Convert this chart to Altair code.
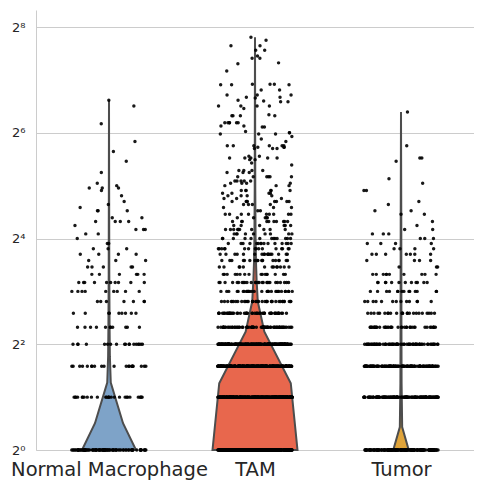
import altair as alt
import pandas as pd

categories = ["Normal Macrophage", "TAM", "Tumor"]
colors = ["#7ea3c8", "#e8674d", "#e0a43a"]

# violin outline: value (y) and half-width in category-slot units
nm_violin_y = [1, 1.42, 2.42, 3.4, 5, 10, 30, 98]
nm_violin_w = [0.185, 0.096, 0.012, 0.006, 0.004, 0.002, 0.001, 0.0]
tam_violin_y = [1, 2.4, 4.72, 7.0, 9.3, 11.6, 16, 30, 224]
tam_violin_w = [0.291, 0.245, 0.064, 0.019, 0.011, 0.007, 0.004, 0.002, 0.0]
tumor_violin_y = [1, 1.35, 2.4, 5, 20, 84]
tumor_violin_w = [0.053, 0.008, 0.004, 0.003, 0.002, 0.0]

# strip points: number of cells at each low integer value 1..16
low_values = list(range(1, 17))
nm_low_counts = [90, 27, 21, 18, 11, 9, 7, 9, 10, 6, 5, 3, 4, 3, 2, 1]
tam_low_counts = [400, 300, 250, 200, 70, 50, 38, 31, 27, 16, 13, 18, 17, 16, 15, 13]
tumor_low_counts = [160, 150, 120, 70, 38, 24, 13, 14, 12, 10, 3, 4, 7, 4, 4, 3]

# strip points: individual higher values
nm_high = [98, 91, 72, 57, 50, 44, 38, 33, 32, 31, 31, 31, 30, 28, 26, 25, 24,
           23, 23, 23, 21, 21, 20, 20, 20, 20, 19, 18, 18, 18, 17, 17]
tam_high_values = [17, 18, 19, 20, 21, 22, 23, 24, 25, 26, 27, 28, 29, 30, 32, 33,
                   34, 36, 38, 39, 42, 43, 45, 46, 47, 52, 53, 54, 57, 59, 61, 63,
                   64, 65, 69, 70, 73, 80, 81, 88, 91, 96, 97, 98, 101, 102, 105,
                   112, 120, 121, 144, 158, 160, 170, 175, 189, 200, 215, 224]
tam_high_counts = [9, 11, 6, 10, 5, 9, 2, 3, 4, 8, 3, 4, 4, 6, 3, 4,
                   5, 6, 3, 4, 1, 1, 2, 5, 2, 3, 3, 6, 1, 1, 1, 3,
                   2, 1, 2, 2, 6, 4, 1, 1, 4, 2, 1, 1, 1, 2, 3,
                   2, 3, 3, 1, 1, 1, 2, 1, 2, 2, 1, 1]
tumor_high = [84, 54, 46, 46, 44, 35, 33, 30, 30, 26, 25, 23, 23, 22, 22, 20,
              19, 18, 18, 17, 17, 17]

y_tick_values = [1, 4, 16, 64, 256]
y_tick_labels = ["2\u2070", "2\u00b2", "2\u2074", "2\u2076", "2\u2078"]

# ---- build tables ----
violin_rows = []
for ci, (ys, ws) in enumerate([(nm_violin_y, nm_violin_w),
                               (tam_violin_y, tam_violin_w),
                               (tumor_violin_y, tumor_violin_w)]):
    for k, (y, w) in enumerate(zip(ys, ws)):
        violin_rows.append({"cat": categories[ci], "ci": ci, "k": k, "value": y,
                            "lo": ci - w, "hi": ci + w})
violin_df = pd.DataFrame(violin_rows)

point_rows = []
tam_high = []
for v, c in zip(tam_high_values, tam_high_counts):
    tam_high += [v] * c
for ci, (counts, highs) in enumerate([(nm_low_counts, nm_high),
                                      (tam_low_counts, tam_high),
                                      (tumor_low_counts, tumor_high)]):
    vals = []
    for v, c in zip(low_values, counts):
        vals += [v] * c
    vals += highs
    for v in vals:
        point_rows.append({"cat": categories[ci], "ci": ci, "value": v})
points_df = pd.DataFrame(point_rows)

label_expr_y = "''"
for v, lab in zip(y_tick_values, y_tick_labels):
    label_expr_y = f"datum.value == {v} ? '{lab}' : ({label_expr_y})"
label_expr_x = "''"
for i, lab in enumerate(categories):
    label_expr_x = f"round(datum.value) == {i} ? '{lab}' : ({label_expr_x})"

x_scale = alt.Scale(domain=[-0.5, 2.5], nice=False, zero=False)
y_scale = alt.Scale(type="log", base=2, domain=[1, 320], nice=False)

x_axis = alt.Axis(values=[0, 1, 2], labelExpr=label_expr_x, grid=False, ticks=False,
                  domainColor="#cccccc", labelFontSize=19.5, labelPadding=10,
                  labelColor="#262626", labelFont="DejaVu Sans", labelFlush=False,
                  labelOverlap=False, labelLimit=0, title=None)
y_axis = alt.Axis(values=y_tick_values, labelExpr=label_expr_y, grid=True,
                  gridColor="#cccccc", ticks=False, domainColor="#cccccc",
                  labelFontSize=13, labelPadding=11, labelColor="#262626",
                  labelFont="DejaVu Sans", labelOverlap=False, title=None)

violins = alt.Chart(violin_df).mark_area(
    orient="horizontal", stroke="#4d4d4d", strokeWidth=2, opacity=1
).encode(
    y=alt.Y("value:Q", scale=y_scale, axis=y_axis),
    x=alt.X("lo:Q", scale=x_scale, axis=x_axis, stack=None),
    x2="hi:Q",
    color=alt.Color("cat:N", scale=alt.Scale(domain=categories, range=colors), legend=None),
)

points = alt.Chart(points_df).transform_window(
    rn="row_number()", groupby=["cat"]
).transform_calculate(
    h="sin(datum.rn * 12.9898 + datum.ci * 78.233) * 43758.5453"
).transform_calculate(
    jx="datum.ci + (datum.h - floor(datum.h) - 0.5) * 0.51"
).mark_circle(size=12, color="black", opacity=0.9).encode(
    x=alt.X("jx:Q", scale=x_scale, axis=x_axis),
    y=alt.Y("value:Q", scale=y_scale, axis=y_axis),
)

chart = alt.layer(violins, points).properties(
    width=438, height=440,
    autosize=alt.AutoSizeParams(type="none"),
    padding={"left": 28, "top": 2, "right": 0, "bottom": 32},
).configure_view(stroke=None)

chart.save("out.html", embed_options={"renderer": "svg", "actions": False})
